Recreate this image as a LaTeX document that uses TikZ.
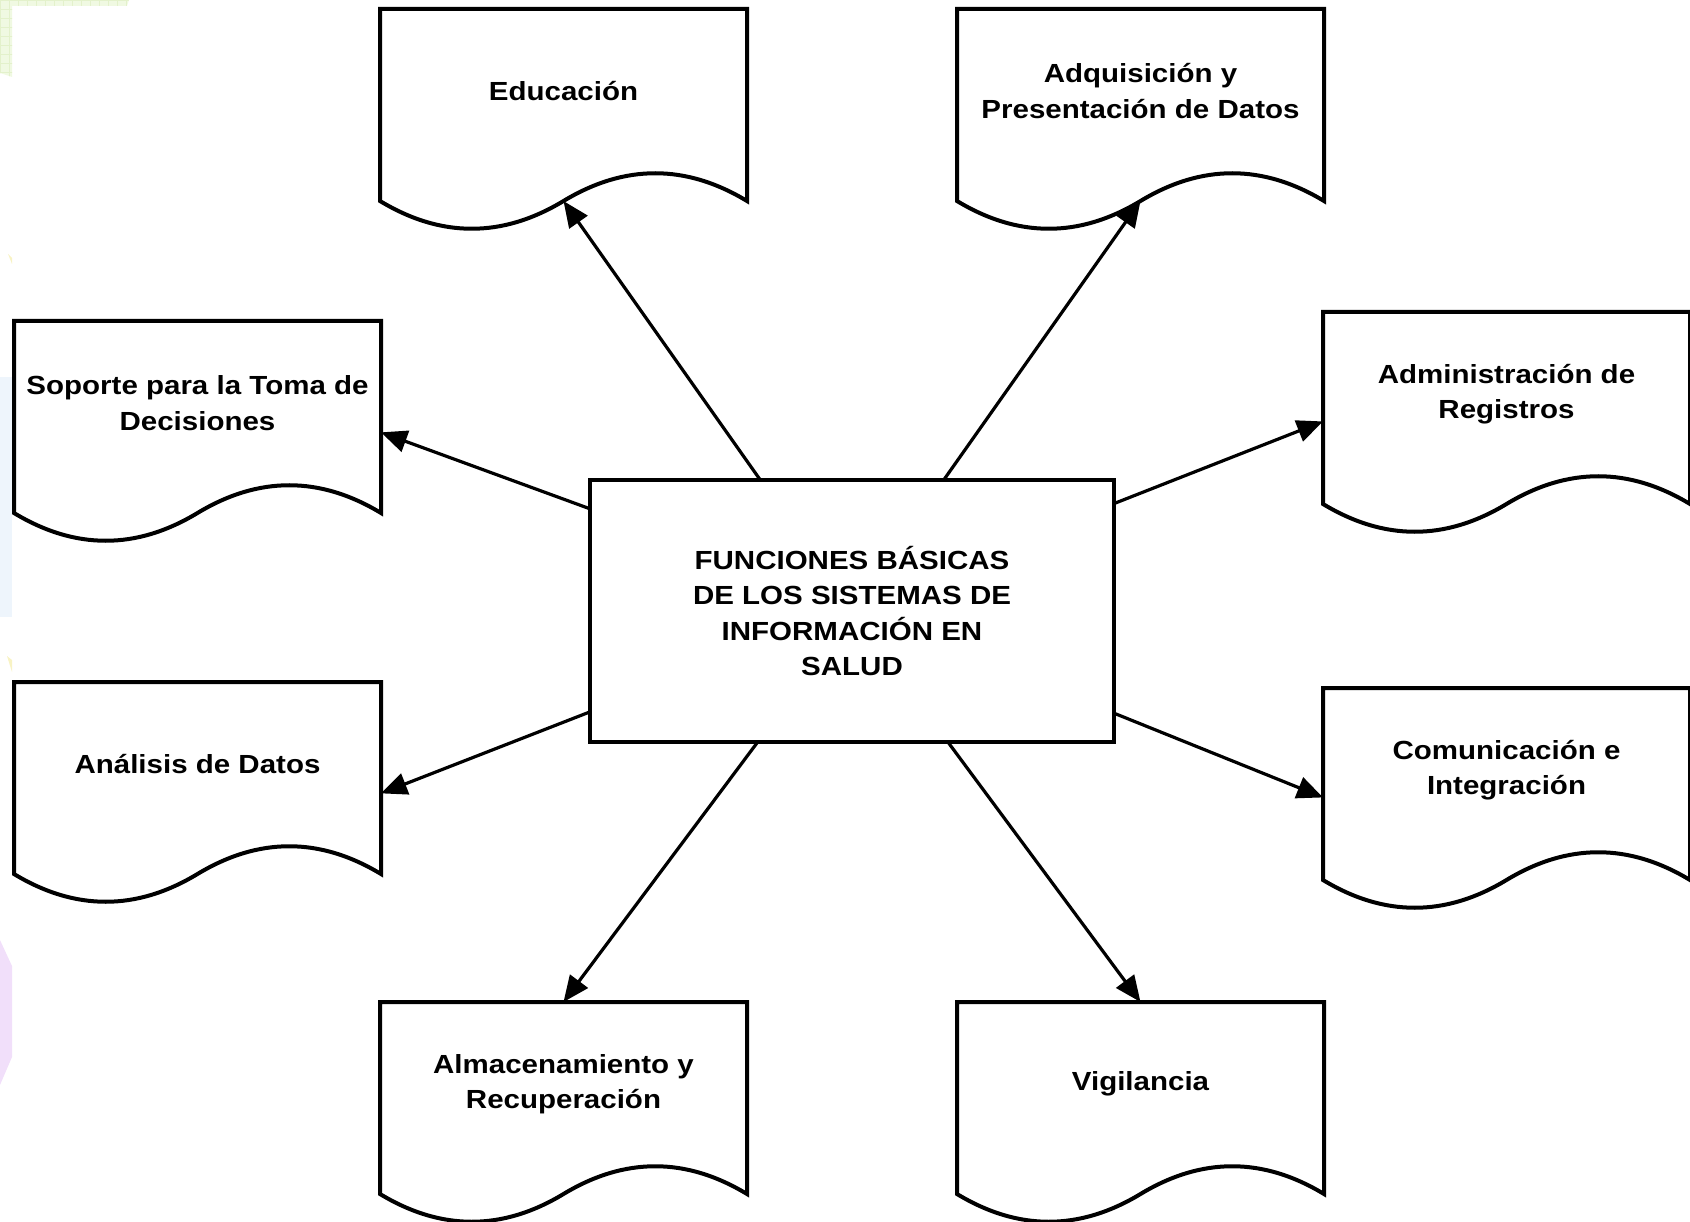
\documentclass[tikz,border=0pt]{standalone}
\usepackage{fontspec}
\setmainfont{Liberation Sans}[FakeStretch=1.126]
\usetikzlibrary{calc,arrows.meta}

\definecolor{bgGreen}{HTML}{F0F9E2}
\definecolor{bgGreenGrid}{HTML}{E3F1CB}
\definecolor{bgBlue}{HTML}{EEF5FC}
\definecolor{bgPurple}{HTML}{F1DFFA}
\definecolor{bgYellow}{HTML}{F8F3C4}

\tikzset{
  docframe/.style={minimum width=367pt, minimum height=192pt, inner sep=0pt, outer sep=0pt},
  docline/.style={line width=4pt, line join=miter},
  doctext/.style={font=\bfseries\fontsize{26.2}{35.4}\selectfont, align=center, inner sep=0pt},
  hub/.style={draw, line width=4pt, minimum width=524pt, minimum height=262pt,
    inner sep=0pt, outer sep=0pt, align=center,
    font=\bfseries\fontsize{26.2}{35.2}\selectfont},
  conn/.style={line width=3.2pt, -{Triangle[length=26pt,width=22pt]}}
}

% document-shaped box: name, north-west corner, label
\newcommand\docnode[3]{%
  \node[docframe, anchor=north west] (#1) at (#2) {};
  \draw[docline] (#1.south west) -- (#1.north west) -- (#1.north east) -- (#1.south east)
    .. controls ($(#1.south east)+(-61.2,-37)$) and ($(#1.south east)+(-122.3,-37)$) .. (#1.south)
    .. controls ($(#1.south)+(-61.2,37)$) and ($(#1.south)+(-122.3,37)$) .. (#1.south west) -- cycle;
  \node[doctext] (#1t) at ($(#1.north)+(0,82)$) {#3};%
}

\begin{document}
\begin{tikzpicture}[x=1pt, y=-1pt]
\useasboundingbox (0,0) rectangle (1690,1222);
\clip (0,0) rectangle (1690,1222);

% faint slide-background remnants along the left edge
\begin{scope}
  \clip (0,0) -- (129,0) -- (127,6) -- (12,6) -- (12,77) -- (0,73) -- cycle;
  \fill[bgGreen] (0,0) rectangle (130,80);
  \foreach \g in {0,9,...,130} {\draw[bgGreenGrid, line width=0.7pt] (\g,0) -- (\g,80);}
  \foreach \g in {0,9,...,80} {\draw[bgGreenGrid, line width=0.7pt] (0,\g) -- (130,\g);}
\end{scope}
\fill[bgYellow] (8,254) -- (12,258) -- (12,264) -- cycle;
\fill[bgBlue] (0,377) rectangle (12,617);
\fill[bgYellow] (7,656) -- (12,660) -- (12,672) -- cycle;
\fill[bgPurple] (0,940) -- (12,966) -- (12,1057) -- (0,1085) -- cycle;

% outer function boxes
\docnode{edu}{380,9}{Educación}
\docnode{adq}{957,9}{Adquisición y\\Presentación de Datos}
\docnode{sop}{14,321}{Soporte para la Toma de\\Decisiones}
\docnode{adm}{1323,312}{Administración de\\Registros}
\docnode{ana}{14,682}{Análisis de Datos}
\docnode{com}{1323,688}{Comunicación e\\Integración}
\docnode{alm}{380,1002}{Almacenamiento y\\Recuperación}
\docnode{vig}{957,1002}{Vigilancia}

% central box
\node[hub] (c) at (852,611) {FUNCIONES BÁSICAS\\DE LOS SISTEMAS DE\\INFORMACIÓN EN\\SALUD};

% connectors
\draw[conn] ($(c.north west)!0.325!(c.north east)$) -- (edu.south);
\draw[conn] ($(c.north west)!0.675!(c.north east)$) -- (adq.south);
\draw[conn] ($(c.north west)!0.11!(c.south west)$) -- ($(sop.north east)!0.58!(sop.south east)$);
\draw[conn] ($(c.north east)!0.09!(c.south east)$) -- ($(adm.north west)!0.57!(adm.south west)$);
\draw[conn] ($(c.north west)!0.885!(c.south west)$) -- ($(ana.north east)!0.58!(ana.south east)$);
\draw[conn] ($(c.north east)!0.89!(c.south east)$) -- ($(com.north west)!0.57!(com.south west)$);
\draw[conn] ($(c.south west)!0.32!(c.south east)$) -- (alm.north);
\draw[conn] ($(c.south west)!0.683!(c.south east)$) -- (vig.north);
\end{tikzpicture}
\end{document}
